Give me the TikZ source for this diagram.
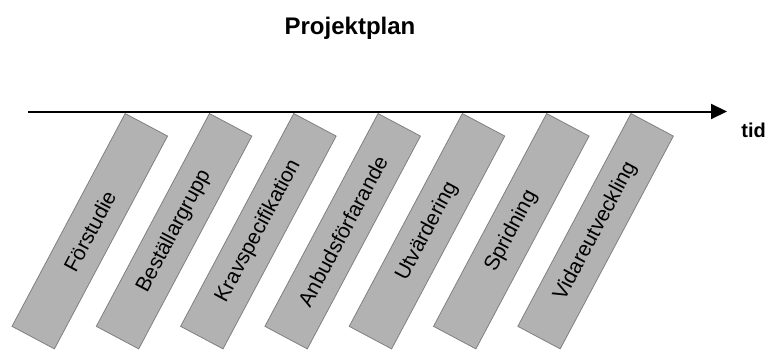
\documentclass[tikz,border=0pt]{standalone}
\usepackage{fontspec}
\setmainfont{Liberation Sans}
\usepackage{tikz}
\usetikzlibrary{arrows.meta,positioning}

\begin{document}
\begin{tikzpicture}[x=1pt,y=1pt,
        phase/.style={draw=black!50,fill=black!30,line width=0.8pt,rotate=62,anchor=north east,
                      minimum width=241pt,minimum height=48pt,inner sep=0pt,
                      font=\fontsize{21}{25}\selectfont},
        axis/.style={line width=2pt,-{Triangle[length=16pt,width=15pt]}}]
	\useasboundingbox (0,0) rectangle (770,349);

	\node[font=\bfseries\fontsize{24}{28}\selectfont,anchor=base]	(title)	at (350,315)	{Projektplan};

	\coordinate	(start)	at (28,237.5);
	\coordinate	(end)	at (727,237.5);
	\node[font=\bfseries\fontsize{20}{24}\selectfont,anchor=base east,inner sep=0pt]	(tid)	at (766,212)	{tid};

	\node[phase]	(p1)	at (125,236)	{Förstudie};
	\node[phase]	(p2)	at ([xshift=84.3pt]p1.north east)	{Beställargrupp};
	\node[phase]	(p3)	at ([xshift=84.3pt]p2.north east)	{Kravspecifikation};
	\node[phase]	(p4)	at ([xshift=84.3pt]p3.north east)	{Anbudsförfarande};
	\node[phase]	(p5)	at ([xshift=84.3pt]p4.north east)	{Utvärdering};
	\node[phase]	(p6)	at ([xshift=84.3pt]p5.north east)	{Spridning};
	\node[phase]	(p7)	at ([xshift=84.3pt]p6.north east)	{Vidareutveckling};

	\draw[axis]	(start) -- (end);
\end{tikzpicture}
\end{document}
